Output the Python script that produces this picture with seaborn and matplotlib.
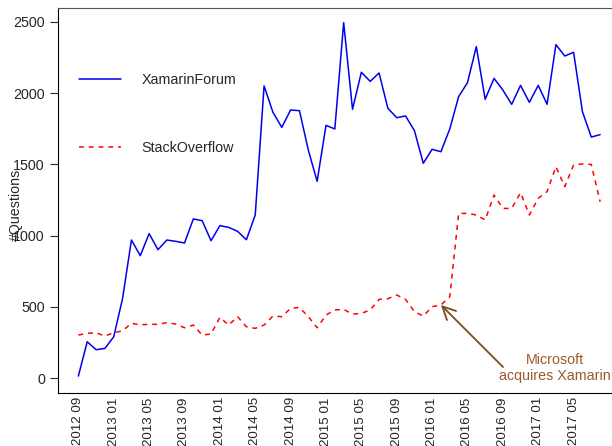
import numpy as np
import pandas as pd
import matplotlib
matplotlib.use("Agg")
import matplotlib.pyplot as plt
import seaborn as sns
from matplotlib.lines import Line2D

# ---- data -------------------------------------------------------------
months = [f"{y} {m:02d}" for y in range(2012, 2018) for m in range(1, 13)]
months = months[months.index("2012 09"):months.index("2017 08") + 1]

xamarin_forum = [14, 255, 199, 208, 290, 559, 969, 859, 1014, 901,
                 969, 960, 948, 1117, 1105, 964, 1070, 1058, 1030, 971,
                 1145, 2051, 1866, 1760, 1882, 1877, 1601, 1381, 1774, 1749,
                 2495, 1887, 2147, 2083, 2142, 1894, 1828, 1840, 1737, 1508,
                 1606, 1589, 1749, 1976, 2074, 2327, 1957, 2104, 2022, 1922,
                 2055, 1936, 2055, 1922, 2341, 2261, 2287, 1870, 1692, 1709]

stack_overflow = [302, 314, 318, 295, 318, 332, 384, 374, 377, 377,
                  389, 379, 353, 372, 302, 309, 426, 372, 431, 360,
                  349, 372, 435, 431, 489, 496, 431, 353, 442, 478,
                  482, 449, 454, 478, 552, 557, 583, 552, 466, 435,
                  501, 513, 571, 1156, 1156, 1145, 1110, 1285, 1191, 1191,
                  1301, 1145, 1262, 1309, 1484, 1344, 1496, 1503, 1500, 1238]

tick_labels = ["2012 09", "2013 01", "2013 05", "2013 09", "2014 01", "2014 05",
               "2014 09", "2015 01", "2015 05", "2015 09", "2016 01", "2016 05",
               "2016 09", "2017 01", "2017 05"]
y_ticks = [0, 500, 1000, 1500, 2000, 2500]
annotation_month = "2016 02"
annotation_text = "Microsoft\nacquires Xamarin"

df = pd.DataFrame({"idx": np.arange(len(months)), "month": months,
                   "XamarinForum": xamarin_forum, "StackOverflow": stack_overflow})

# ---- style ------------------------------------------------------------
sns.set_style("white")
plt.rcParams["font.family"] = ["Liberation Sans", "DejaVu Sans"]
FS = 10.3
plt.rcParams["font.size"] = FS

fig = plt.figure(figsize=(6.12, 4.46), dpi=100)
W, H = 612, 446
left, right, top, bottom = 57.5, 621.0, 8.3, 393.0
ax = fig.add_axes([left / W, 1 - bottom / H, (right - left) / W, (bottom - top) / H])

dash = (0, (3.2, 3.2))
sns.lineplot(data=df, x="idx", y="XamarinForum", ax=ax, color="#0000ee", lw=1.1)
sns.lineplot(data=df, x="idx", y="StackOverflow", ax=ax, color="#ff0000", lw=1.1,
             linestyle=dash)

ax.set_xlim(-2.36, len(months) - 1 + 2.36)
ax.set_ylim(-105, 2596)

tick_pos = [months.index(t) for t in tick_labels]
ax.set_xticks(tick_pos)
ax.set_xticklabels(tick_labels, rotation=90)
ax.set_yticks(y_ticks)
ax.set_yticklabels([str(v) for v in y_ticks])
ax.tick_params(axis="x", length=0, pad=3, labelsize=9.6)
ax.tick_params(axis="y", length=6, width=0.8, direction="out", left=True, pad=3, labelsize=FS)

for s in ["left", "bottom", "top"]:
    ax.spines[s].set_visible(True)
    ax.spines[s].set_color("black")
    ax.spines[s].set_linewidth(0.8)
ax.spines["top"].set_color("#555555")
ax.spines["right"].set_visible(False)

ax.set_xlabel("")
ax.set_ylabel("")
fig.text(16 / W, 1 - 205 / H, "#Questions", rotation=90, ha="center", va="center",
         fontsize=FS)

# legend
handles = [Line2D([], [], color="#0000ee", lw=1.1),
           Line2D([], [], color="#ff0000", lw=1.1, linestyle=dash)]
ax.legend(handles, ["XamarinForum", "StackOverflow"], frameon=False,
          loc="upper left", bbox_to_anchor=(72 / W, 1 - 66 / H),
          bbox_transform=fig.transFigure, borderpad=0, handlelength=2.95,
          handletextpad=1.4, labelspacing=3.75, fontsize=FS)

# annotation
ai = months.index(annotation_month)
ax.annotate("", xy=(ai, stack_overflow[ai]), xycoords="data",
            xytext=(503 / W, 1 - 367 / H), textcoords="figure fraction",
            arrowprops=dict(arrowstyle="->,head_length=0.9,head_width=0.45",
                            color="#7a4a1e", lw=1.3, shrinkA=0, shrinkB=0))
fig.text(555 / W, 1 - 368 / H, annotation_text, ha="center", va="center",
         color="#9a5a2a", fontsize=FS, linespacing=1.15)

fig.savefig("out.png", dpi=100)
